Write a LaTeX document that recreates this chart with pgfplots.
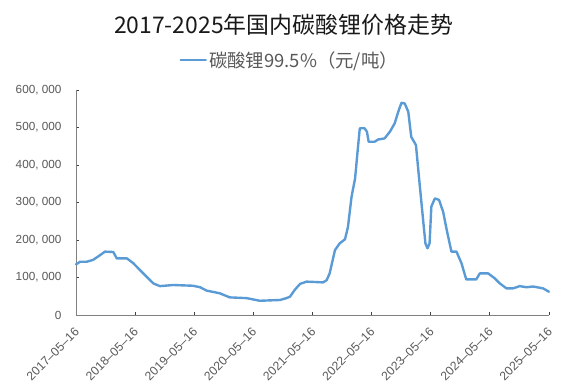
\documentclass[border=0pt]{standalone}
\usepackage{pgfplots}
\pgfplotsset{compat=1.18}
\usepackage{fontspec}
\setmainfont{Liberation Sans}
\newfontfamily\cjk{Noto Sans CJK SC}
\definecolor{lineblue}{RGB}{91,155,213}
\definecolor{ticktext}{RGB}{89,89,89}
\begin{document}
\begin{tikzpicture}
\useasboundingbox (0,0) rectangle (586bp,-390bp);
\node[font=\cjk\fontsize{23}{27}\selectfont, text=black!90] at (283.5bp,-25bp) {2017-2025年国内碳酸锂价格走势};
\begin{axis}[
  at={(76bp,-315bp)}, anchor=south west,
  width=473bp, height=225bp, scale only axis,
  xmin=0, xmax=8, ymin=0, ymax=600000,
  axis x line*=bottom, axis y line*=left,
  axis line style={draw=black!50, line width=1pt},
  tick style={draw=black!75, line width=0.8pt},
  major tick length=3bp, tick align=inside,
  xtick={0,1,2,3,4,5,6,7,8},
  xticklabels={2017--05--16,2018--05--16,2019--05--16,2020--05--16,2021--05--16,2022--05--16,2023--05--16,2024--05--16,2025--05--16},
  xticklabel style={xshift=1bp, yshift=-15bp, rotate=45, anchor=east, inner sep=0pt, font=\fontsize{12.3}{14}\selectfont, text=ticktext},
  ytick={0,100000,200000,300000,400000,500000,600000},
  yticklabels={0,{100, 000},{200, 000},{300, 000},{400, 000},{500, 000},{600, 000}},
  yticklabel style={font=\fontsize{11.8}{13}\selectfont, text=ticktext, xshift=-11bp},
  scaled y ticks=false,
  legend style={at={(0.452,1.133)}, anchor=center, draw=none, fill=none, font=\cjk\fontsize{18.5}{21}\selectfont, text=ticktext, inner sep=0pt},
  legend image code/.code={\draw[#1, line width=2.5pt] (0bp,0bp) -- (25bp,0bp);},
  clip=false,
]
\addplot[color=lineblue, line width=2.4pt, line join=round, line cap=round] coordinates {
(0.00,135000)(0.07,142000)(0.18,142000)(0.29,147000)(0.41,160000)(0.49,169000)
(0.63,168000)(0.69,151000)(0.86,151000)(0.97,138000)(1.08,120000)(1.195,102000)
(1.31,84000)(1.42,77000)(1.645,80000)(1.98,78000)(2.10,74000)(2.21,65000)
(2.43,58000)(2.60,47000)(2.885,45000)(3.11,38000)(3.45,40000)(3.56,45000)
(3.62,49000)(3.70,67000)(3.79,83000)(3.90,89000)(4.18,87000)(4.24,93000)
(4.29,111000)(4.38,173000)(4.46,191000)(4.55,202000)(4.60,235000)(4.66,315000)
(4.72,364000)(4.77,449000)(4.80,498000)(4.88,498000)(4.92,489000)(4.95,462000)
(5.05,462000)(5.11,468000)(5.22,471000)(5.31,489000)(5.39,511000)(5.45,542000)
(5.505,566000)(5.56,564000)(5.62,542000)(5.67,475000)(5.75,453000)(5.80,369000)
(5.86,271000)(5.91,191000)(5.945,178000)(5.98,191000)(6.01,289000)(6.07,311000)
(6.14,307000)(6.21,275000)(6.27,227000)(6.35,169000)(6.435,169000)(6.52,138000)
(6.60,95000)(6.77,95000)(6.83,111000)(6.97,111000)(7.08,98000)(7.17,84000)
(7.28,71000)(7.39,71000)(7.45,74000)(7.505,77000)(7.62,74000)(7.73,76000)
(7.90,71000)(8.00,62000)
};
\addlegendentry{碳酸锂99.5\%（元/吨）}
\end{axis}
\end{tikzpicture}
\end{document}
